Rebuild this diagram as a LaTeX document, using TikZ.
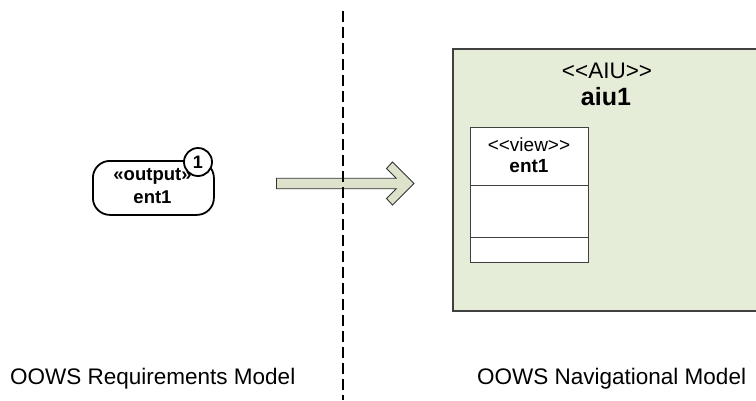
\documentclass[tikz,border=0pt]{standalone}
\usepackage{fontspec}
\setmainfont{Liberation Sans}[Ligatures=TeXOff]
\definecolor{aiufill}{RGB}{229,236,216}
\definecolor{arrowfill}{RGB}{221,226,203}
\definecolor{edgegray}{RGB}{64,64,64}
\begin{document}
\begin{tikzpicture}[x=1pt,y=-1pt,
  bottomlab/.style={font=\fontsize{22.5}{27}\selectfont, inner sep=0pt},
  aiubox/.style={draw=edgegray, line width=1.5pt, fill=aiufill, inner sep=0pt, anchor=north west},
  viewbox/.style={draw=edgegray, line width=0.9pt, fill=white, inner sep=0pt, anchor=north west},
  outbox/.style={draw=black, line width=1.8pt, rounded corners=17pt, fill=white, inner sep=0pt, anchor=north west},
  badge/.style={circle, draw=black, line width=1.8pt, fill=white, inner sep=0pt, minimum size=28pt, font=\fontsize{18}{20}\selectfont\bfseries},
  txt/.style={inner sep=0pt},
  blockarrow/.style={draw=black!80, line width=0.9pt, fill=arrowfill, line join=miter},
  divider/.style={draw=black, line width=2pt, dash pattern=on 11pt off 5pt}
]
\useasboundingbox (0,0) rectangle (756,400);
\begin{scope}
  \clip (0,0) rectangle (756,400);
  \node[aiubox, minimum width=320pt, minimum height=262pt] (aiu) at (452,48) {};
\end{scope}
\node[txt, font=\fontsize{22.5}{27}\selectfont] (aiust) at (607,71) {{<}{<}AIU{>}{>}};
\node[txt, font=\fontsize{25}{30}\selectfont\bfseries] (aiuname) at (606,97) {aiu1};

\node[viewbox, minimum width=118pt, minimum height=135pt] (view) at (470,127) {};
\draw[edgegray, line width=0.9pt] ([yshift=-58pt]view.north west) -- ([yshift=-58pt]view.north east);
\draw[edgegray, line width=0.9pt] ([yshift=-110pt]view.north west) -- ([yshift=-110pt]view.north east);
\node[txt, font=\fontsize{19}{22}\selectfont] (viewst) at (529,145) {{<}{<}view{>}{>}};
\node[txt, font=\fontsize{19}{22}\selectfont\bfseries] (viewname) at (529,166) {ent1};

\node[outbox, minimum width=121pt, minimum height=54pt] (out) at (92,160) {};
\node[txt, font=\fontsize{18.5}{22}\selectfont\bfseries] (outst) at (152.5,176) {«output»};
\node[txt, font=\fontsize{18.5}{22}\selectfont\bfseries] (outname) at (152.5,197) {ent1};
\node[badge] (num) at (198,162) {1};

\path[blockarrow] (276.5,178.25) -- (396.25,178.25) -- (386.5,168.5) -- (392.5,162)
  -- (414,183.5) -- (392.5,205) -- (386.5,198.5) -- (396.25,188.75) -- (276.5,188.75) -- cycle;

\coordinate (dtop) at (343,11);
\coordinate (dbot) at (343,400);
\draw[divider] (dtop) -- (dbot);

\node[bottomlab, anchor=base west] (reqlab) at (10,384) {OOWS Requirements Model};
\node[bottomlab, anchor=base west] (navlab) at (477,384) {OOWS Navigational Model};
\end{tikzpicture}
\end{document}
